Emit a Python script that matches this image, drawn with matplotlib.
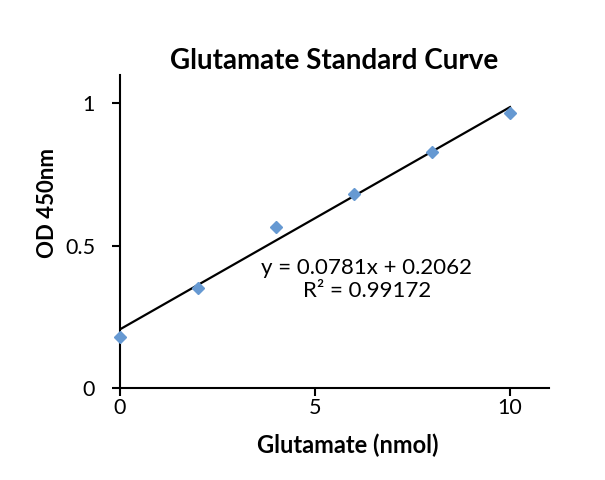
import numpy as np
import matplotlib.pyplot as plt

plt.rcParams['font.family'] = ['Lato', 'DejaVu Sans']

glutamate = [0, 2, 4, 6, 8, 10]
od450 = [0.180, 0.353, 0.566, 0.681, 0.829, 0.966]
slope, intercept = 0.0781, 0.2062
r2 = 0.99172

fig = plt.figure(figsize=(6.05, 4.8), dpi=100)
ax = fig.add_axes([120 / 605, 92 / 480, 429 / 605, 313 / 480])

xs = np.array([glutamate[0], glutamate[-1]])
ax.plot(xs, slope * xs + intercept, color='black', lw=1.6, zorder=2)
ax.plot(glutamate, od450, linestyle='none', marker='D', ms=6,
        color='#6699d2', mec='#6699d2', zorder=3, clip_on=False)

ax.set_xlim(0, 11)
ax.set_ylim(0, 1.1)
ax.set_xticks([0, 5, 10])
ax.set_xticklabels(['0', '5', '10'])
ax.set_yticks([0, 0.5, 1])
ax.set_yticklabels(['0', '0.5', '1'])
for s in ['top', 'right']:
    ax.spines[s].set_visible(False)
for s in ['left', 'bottom']:
    ax.spines[s].set_linewidth(1.5)
ax.tick_params(axis='both', direction='out', length=6, width=1.5, labelsize=15.5)
ax.tick_params(axis='y', pad=12)
ax.tick_params(axis='x', pad=1)

ax.set_title('Glutamate Standard Curve', fontsize=20, fontweight='bold', pad=4)
ax.set_xlabel('Glutamate (nmol)', fontsize=17, fontweight='bold', va='center')
ax.xaxis.set_label_coords(0.53, -0.182)
ax.set_ylabel('OD 450nm', fontsize=16, fontweight='bold', va='center')
ax.yaxis.set_label_coords(-0.170, 0.59)

ax.text(6.33, 0.382, f'y = {slope}x + {intercept}\nR² = {r2}',
        ha='center', va='center', fontsize=16, linespacing=1.15)

fig.savefig('out.png', dpi=100)
